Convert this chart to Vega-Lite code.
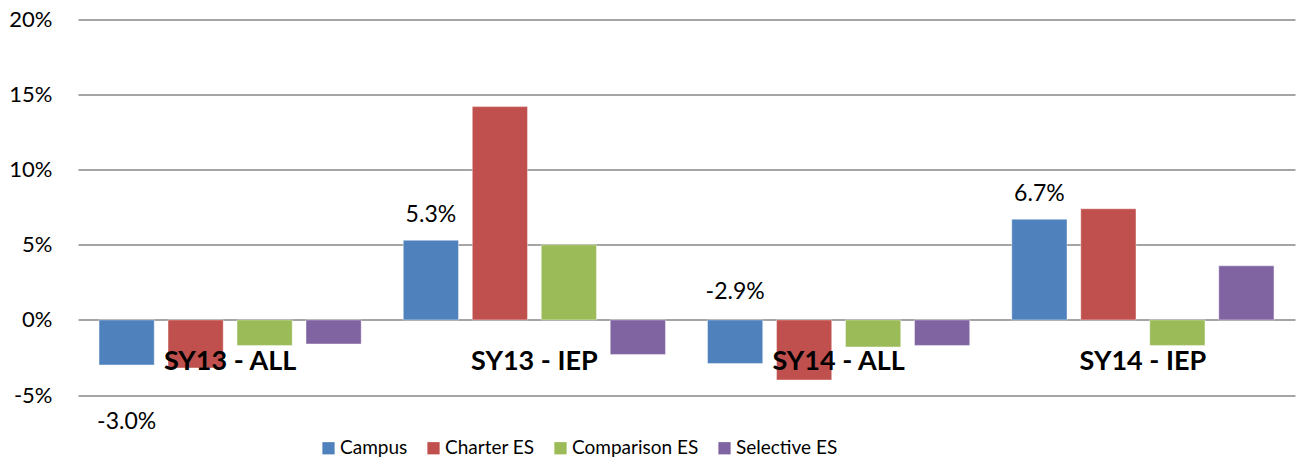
{
  "$schema": "https://vega.github.io/schema/vega-lite/v6.json",
  "width": 1217,
  "height": 375.5,
  "autosize": "none",
  "padding": {"left": 78, "top": 19.5, "right": 4, "bottom": 69},
  "config": {
    "view": {"stroke": null},
    "font": "Lato",
    "locale": {"number": {"decimal": ".", "thousands": ",", "grouping": [3], "currency": ["$", ""], "minus": "-"}}
  },
  "data": {
    "values": [
      {"group": "SY13 - ALL", "series": "Campus", "value": -0.030},
      {"group": "SY13 - ALL", "series": "Charter ES", "value": -0.032},
      {"group": "SY13 - ALL", "series": "Comparison ES", "value": -0.017},
      {"group": "SY13 - ALL", "series": "Selective ES", "value": -0.016},
      {"group": "SY13 - IEP", "series": "Campus", "value": 0.053},
      {"group": "SY13 - IEP", "series": "Charter ES", "value": 0.142},
      {"group": "SY13 - IEP", "series": "Comparison ES", "value": 0.050},
      {"group": "SY13 - IEP", "series": "Selective ES", "value": -0.023},
      {"group": "SY14 - ALL", "series": "Campus", "value": -0.029},
      {"group": "SY14 - ALL", "series": "Charter ES", "value": -0.040},
      {"group": "SY14 - ALL", "series": "Comparison ES", "value": -0.018},
      {"group": "SY14 - ALL", "series": "Selective ES", "value": -0.017},
      {"group": "SY14 - IEP", "series": "Campus", "value": 0.067},
      {"group": "SY14 - IEP", "series": "Charter ES", "value": 0.074},
      {"group": "SY14 - IEP", "series": "Comparison ES", "value": -0.017},
      {"group": "SY14 - IEP", "series": "Selective ES", "value": 0.036}
    ]
  },
  "encoding": {
    "x": {
      "field": "group", "type": "nominal", "sort": null,
      "scale": {"paddingInner": 0, "paddingOuter": 0},
      "axis": {
        "title": null, "domain": false, "ticks": false, "tickSize": 0, "zindex": 2,
        "labelAngle": 0, "labelFontSize": 27, "labelFontWeight": "bold",
        "labelColor": "#000000", "labelBaseline": "middle", "labelPadding": -34,
        "labelFont": "Lato", "grid": false
      }
    },
    "xOffset": {
      "field": "series", "type": "nominal", "sort": null,
      "scale": {"paddingInner": 0.2, "paddingOuter": 0.305}
    },
    "y": {
      "field": "value", "type": "quantitative",
      "scale": {"domain": [-0.05, 0.2], "nice": false, "zero": false},
      "axis": {
        "title": null, "format": ".0%", "values": [-0.05, 0, 0.05, 0.1, 0.15, 0.2],
        "domain": false, "ticks": false, "labelPadding": 26, "labelFontSize": 22,
        "labelColor": "#000000", "gridColor": "#878787", "gridWidth": 1.5,
        "labelFont": "Lato"
      }
    }
  },
  "layer": [
    {
      "mark": {"type": "bar", "stroke": "#ffffff", "strokeOpacity": 0.4, "strokeWidth": 1},
      "encoding": {
        "color": {
          "field": "series", "type": "nominal", "sort": null,
          "scale": {
            "domain": ["Campus", "Charter ES", "Comparison ES", "Selective ES"],
            "range": ["#4F81BD", "#C0504D", "#9BBB59", "#8064A2"]
          },
          "legend": {
            "title": null, "orient": "none", "direction": "horizontal",
            "legendX": 241, "legendY": 419,
            "symbolType": "square", "symbolSize": 150, "symbolStrokeWidth": 0,
            "labelFontSize": 19, "labelColor": "#000000", "labelFont": "Lato",
            "columnPadding": 16, "labelOffset": 2
          }
        }
      }
    },
    {
      "transform": [{"filter": "datum.series === 'Campus' && datum.value > 0"}],
      "mark": {"type": "text", "fontSize": 23, "dy": -25, "color": "#000000", "baseline": "middle", "font": "Lato"},
      "encoding": {"text": {"field": "value", "format": ".1%"}}
    },
    {
      "transform": [{"filter": "datum.series === 'Campus' && datum.group === 'SY13 - ALL'"}],
      "mark": {"type": "text", "fontSize": 23, "dy": 57, "color": "#000000", "baseline": "middle", "font": "Lato"},
      "encoding": {"text": {"field": "value", "format": ".1%"}}
    },
    {
      "transform": [{"filter": "datum.series === 'Campus' && datum.group === 'SY14 - ALL'"}],
      "mark": {"type": "text", "fontSize": 23, "dy": -71, "color": "#000000", "baseline": "middle", "font": "Lato"},
      "encoding": {"text": {"field": "value", "format": ".1%"}}
    }
  ]
}
